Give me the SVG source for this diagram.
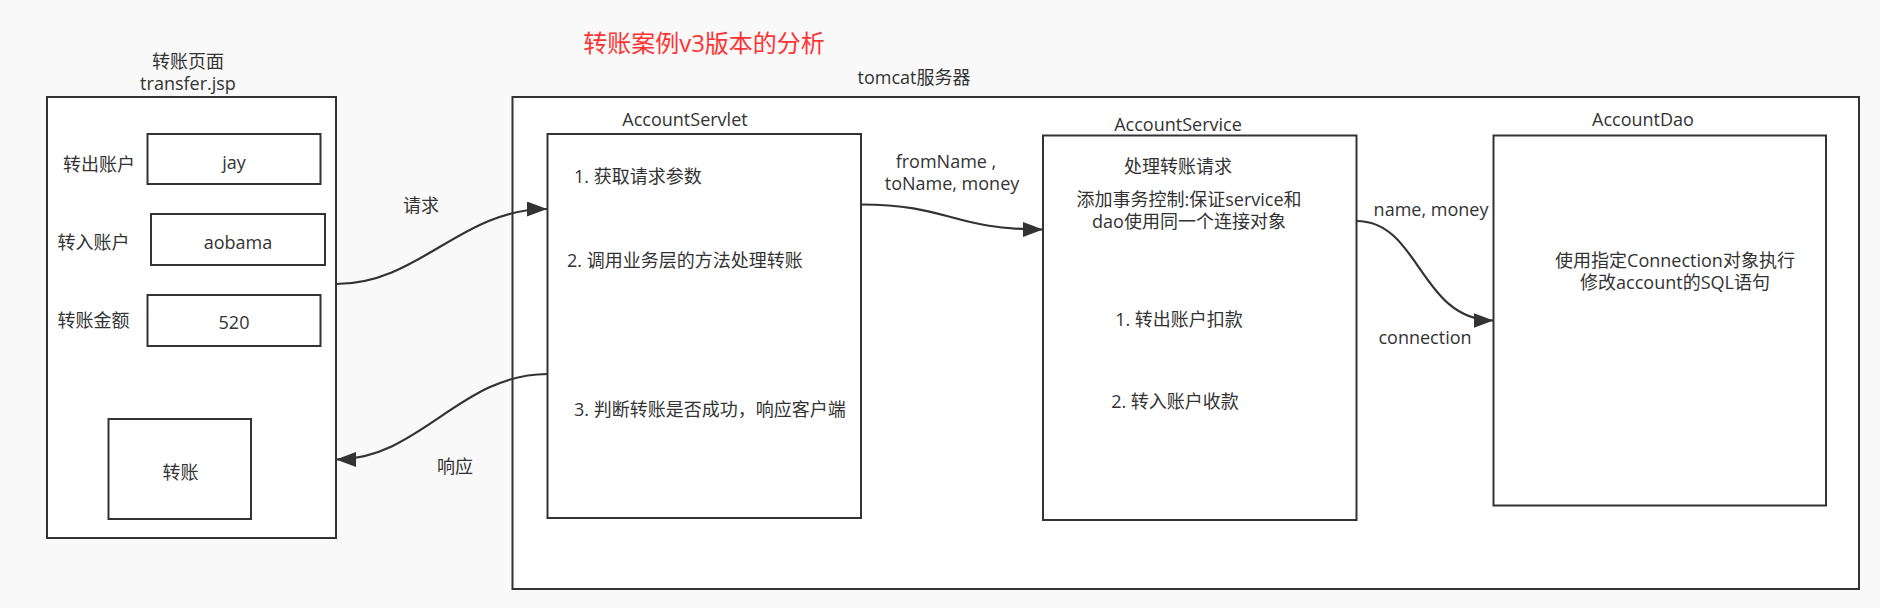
<svg xmlns="http://www.w3.org/2000/svg" width="1880" height="608" viewBox="0 0 1880 608">
<defs>
<marker id="arr" markerUnits="userSpaceOnUse" markerWidth="22" markerHeight="16" refX="20" refY="7.5" orient="auto">
<path d="M0,0 L20,7.5 L0,15 Z" fill="#333"/>
</marker>
<style>
.box{fill:#fff;stroke:#333;stroke-width:2}
.t{font-family:"Open Sans","Noto Sans CJK SC",sans-serif;font-size:18px;fill:#333;dominant-baseline:central}
.c{text-anchor:middle}
.conn{fill:none;stroke:#333;stroke-width:2.2;marker-end:url(#arr)}
</style>
</defs>
<rect width="1880" height="608" fill="#f9f9f9"/>
<text x="704" y="42" class="t c" style="font-size:24px;fill:#ff3333">转账案例v3版本的分析</text>

<g id="transfer-page">
<text x="188" y="61" class="t c">转账页面</text>
<text x="188" y="83" class="t c">transfer.jsp</text>
<rect class="box" x="47" y="97" width="289" height="441"/>
<text x="63" y="164" class="t">转出账户</text>
<rect class="box" x="147.5" y="134" width="173" height="50"/>
<text x="234" y="162" class="t c">jay</text>
<text x="57.5" y="242" class="t">转入账户</text>
<rect class="box" x="151" y="214" width="174" height="51"/>
<text x="238" y="242" class="t c">aobama</text>
<text x="57.5" y="320" class="t">转账金额</text>
<rect class="box" x="147.5" y="295" width="173" height="51"/>
<text x="234" y="322" class="t c">520</text>
<g id="btn-transfer">
<rect class="box" x="108.5" y="419" width="142.5" height="100"/>
<text x="180.5" y="472" class="t c">转账</text>
</g>
</g>

<g id="tomcat">
<text x="914" y="77" class="t c">tomcat服务器</text>
<rect class="box" x="512.5" y="97" width="1346.5" height="492"/>
</g>

<g id="account-servlet">
<text x="685" y="119" class="t c">AccountServlet</text>
<rect class="box" x="547.5" y="134" width="313.5" height="384"/>
<text x="574" y="176" class="t">1. 获取请求参数</text>
<text x="567" y="260" class="t">2. 调用业务层的方法处理转账</text>
<text x="574" y="409" class="t">3. 判断转账是否成功，响应客户端</text>
</g>

<g id="account-service">
<text x="1178" y="124" class="t c">AccountService</text>
<rect class="box" x="1043" y="135.5" width="313.5" height="384.5"/>
<text x="1178" y="166" class="t c">处理转账请求</text>
<text x="1189" y="199" class="t c">添加事务控制:保证service和</text>
<text x="1189" y="221" class="t c">dao使用同一个连接对象</text>
<text x="1179" y="319" class="t c">1. 转出账户扣款</text>
<text x="1175" y="401" class="t c">2. 转入账户收款</text>
</g>

<g id="account-dao">
<text x="1643" y="119" class="t c">AccountDao</text>
<rect class="box" x="1493.5" y="135.5" width="332.5" height="370"/>
<text x="1675" y="260" class="t c">使用指定Connection对象执行</text>
<text x="1675" y="282" class="t c">修改account的SQL语句</text>
</g>

<g id="connectors">
<path class="conn" d="M336,284 C420,284 460,209 547,209"/>
<text x="421" y="205" class="t c">请求</text>
<path class="conn" d="M547.5,374 C460,374 420,459.5 336,459.5"/>
<text x="455" y="466" class="t c">响应</text>
<path class="conn" d="M861,204.5 C950,204.5 950,229.5 1043,229.5"/>
<text x="946" y="161" class="t c">fromName ,</text>
<text x="952" y="183" class="t c">toName, money</text>
<path class="conn" d="M1356.5,221 C1420,221 1420,320.5 1493.5,320.5"/>
<text x="1431" y="209" class="t c">name, money</text>
<text x="1425" y="337" class="t c">connection</text>
</g>
</svg>
